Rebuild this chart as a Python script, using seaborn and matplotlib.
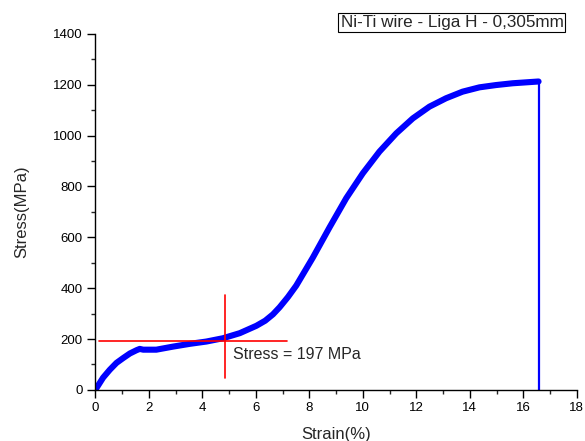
import numpy as np
import pandas as pd
import matplotlib
matplotlib.use("Agg")
import matplotlib.pyplot as plt
from matplotlib.ticker import MultipleLocator
import seaborn as sb

sb.set_style("white")
plt.rcParams['font.family'] = ['Liberation Sans', 'DejaVu Sans']

# tensile curve
strain = [0, 0.29, 0.54, 0.79, 1.04, 1.29, 1.54, 1.66, 1.79, 2.28, 2.9,
          3.53, 4.15, 4.77, 5.40, 6.02, 6.35, 6.64, 6.89, 7.2, 7.51, 8.13,
          8.76, 9.38, 10.0, 10.62, 11.25, 11.87, 12.49, 13.11, 13.73,
          14.36, 14.98, 15.6, 16.57]
stress = [0, 48, 79, 106, 125, 143, 156, 161, 158, 158, 170,
          181, 190, 203, 223, 252, 272, 297, 325, 365, 410, 520,
          640, 754, 852, 937, 1009, 1068, 1114, 1147, 1173,
          1190, 1199, 1206, 1213]

# rupture drop
drop_strain = [16.57, 16.57]
drop_stress = [1213, 0]

# marker cross at the plateau
cross_h_x = [0.13, 7.16]
cross_h_y = [192, 192]
cross_v_x = [4.86, 4.86]
cross_v_y = [48, 373]
plateau_label = "Stress = 197 MPa"
title_label = "Ni-Ti wire - Liga H - 0,305mm"

df = pd.DataFrame({'strain': strain, 'stress': stress})
df_drop = pd.DataFrame({'strain': drop_strain, 'stress': drop_stress})

fig = plt.figure(figsize=(5.85, 4.41), dpi=100)
ax = fig.add_axes([0.163, 0.116, 0.823, 0.807])

sb.lineplot(data=df, x='strain', y='stress', ax=ax, sort=False,
            estimator=None, color='#0000ff', lw=4.4,
            solid_joinstyle='round', solid_capstyle='round')
sb.lineplot(data=df_drop, x='strain', y='stress', ax=ax, sort=False,
            estimator=None, color='#0000ff', lw=1.6)
ax.plot(cross_h_x, cross_h_y, color='#ff0000', lw=1.2)
ax.plot(cross_v_x, cross_v_y, color='#ff0000', lw=1.2)
ax.text(5.15, 138, plateau_label, fontsize=11.5, va='center', ha='left')

ax.set_xlim(0, 18)
ax.set_ylim(0, 1400)
ax.xaxis.set_major_locator(MultipleLocator(2))
ax.xaxis.set_minor_locator(MultipleLocator(1))
ax.yaxis.set_major_locator(MultipleLocator(200))
ax.yaxis.set_minor_locator(MultipleLocator(100))
ax.tick_params(which='major', direction='out', length=5.5, width=1,
               labelsize=9.5, colors='black', left=True, bottom=True)
ax.tick_params(which='minor', direction='out', length=3, width=1,
               left=True, bottom=True)
for s in ['top', 'right']:
    ax.spines[s].set_visible(False)
for s in ['left', 'bottom']:
    ax.spines[s].set_color('black')
    ax.spines[s].set_linewidth(1)

ax.set_xlabel("Strain(%)", fontsize=12)
ax.set_ylabel("Stress(MPa)", fontsize=12)
ax.xaxis.set_label_coords(0.501, -0.104)
ax.yaxis.set_label_coords(-0.138, 0.5)

fig.text(0.7726, 0.949, title_label, fontsize=12.3, ha='center', va='center',
         bbox=dict(boxstyle='square,pad=0.12', fc='white', ec='black', lw=0.8))

fig.savefig("out.png", dpi=100)
